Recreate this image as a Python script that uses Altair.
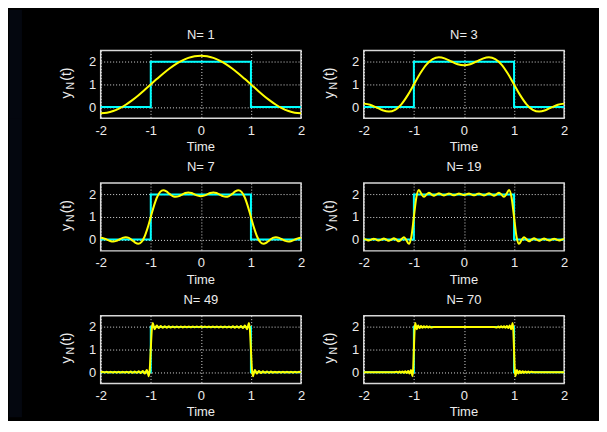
import altair as alt
import pandas as pd

# ---------------- data ----------------
N_LIST = [1, 3, 7, 19, 49, 70]
SQ_T = [-2, -1, -1, 1, 1, 2]
SQ_Y = [0, 0, 2, 2, 0, 0]
X_TICKS = [-2, -1, 0, 1, 2]
Y_TICKS = [0, 1, 2]

# read-off values of each partial sum on 0 <= t <= 1 (the curves are even in t
# and point-symmetric about (1, 1), as seen in every panel)
T_N1 = [0, 0.125, 0.25, 0.375, 0.5, 0.625, 0.75, 0.875, 1.0]
Y_N1 = [2.273, 2.249, 2.176, 2.059, 1.900, 1.707, 1.487, 1.248, 1.0]

T_N3 = [0, 0.125, 0.25, 0.375, 0.5, 0.625, 0.75, 0.875, 1.0]
Y_N3 = [1.849, 1.896, 2.014, 2.142, 2.200, 2.124, 1.879, 1.484, 1.0]

T_N7 = [0, 0.0625, 0.125, 0.1875, 0.25, 0.3125, 0.375, 0.4375, 0.5, 0.5625,
        0.625, 0.6875, 0.75, 0.8125, 0.875, 0.9375, 1.0]
Y_N7 = [1.922, 1.945, 2.002, 2.060, 2.085, 2.059, 1.993, 1.923, 1.892, 1.927,
        2.022, 2.131, 2.184, 2.112, 1.874, 1.483, 1.0]

T_N19 = [0, 0.05, 0.10, 0.15, 0.20, 0.25, 0.30, 0.35, 0.40, 0.45, 0.50,
         0.55, 0.60, 0.65, 0.70, 0.75, 0.80, 0.85, 0.90, 0.95, 1.0]
Y_N19 = [1.968, 2.000, 2.041, 2.000, 1.958, 2.001, 2.045, 1.999, 1.952, 2.002, 2.054,
         1.997, 1.937, 2.005, 2.078, 1.991, 1.892, 2.024, 2.190, 1.873, 1.0]

T_N49 = [0, 0.04, 0.08, 0.12, 0.16, 0.20, 0.24, 0.28, 0.32, 0.36, 0.40, 0.44,
         0.48, 0.52, 0.56, 0.60, 0.64, 0.68, 0.70, 0.72, 0.74, 0.76, 0.78, 0.80,
         0.82, 0.84, 0.86, 0.88, 0.90, 0.92, 0.94, 0.96, 0.98, 1.0]
Y_N49 = [2.016, 1.984, 2.016, 1.984, 2.017, 1.983, 2.017, 1.982, 2.018, 1.981, 2.019, 1.980,
         2.021, 1.978, 2.024, 1.975, 2.027, 1.970, 2.001, 2.029, 1.999, 1.966, 2.002, 2.040,
         1.997, 1.950, 2.005, 2.066, 1.991, 1.903, 2.024, 2.179, 1.873, 1.0]

T_N70 = [0, 0.1, 0.2, 0.3, 0.4, 0.5, 0.6, 0.6571, 0.6857, 0.7143, 0.7429, 0.7714,
         0.8, 0.8286, 0.8429, 0.8571, 0.8714, 0.8857, 0.9, 0.9143, 0.9286, 0.9429,
         0.9571, 0.9714, 0.9857, 1.0]
Y_N70 = [2.0, 2.0, 2.0, 2.0, 2.0, 2.0, 2.0, 1.980, 2.022, 1.976, 2.026, 1.971,
         2.032, 1.966, 2.002, 2.040, 1.997, 1.950, 2.005, 2.066, 1.991, 1.903,
         2.024, 2.179, 1.873, 1.0]

HALVES = [(T_N1, Y_N1), (T_N3, Y_N3), (T_N7, Y_N7),
          (T_N19, Y_N19), (T_N49, Y_N49), (T_N70, Y_N70)]

# ---------------- style / layout ----------------
W, H = 201, 68
COL_GAP, ROW_GAP = 63, 65
TOP = 41          # room above first row (page top margin included)
FONT = "Liberation Sans"
TXT = "#ececec"
NAVY = "#04070f"
CYAN = "#00ffff"
YELLOW = "#ffff00"
ONE = pd.DataFrame({"k": [0]})


def full_curve(th, yh):
    pts = {}
    for t, y in zip(th, yh):
        for tt, yy in ((t, y), (-t, y), (2 - t, 2 - y), (t - 2, 2 - y)):
            pts[round(tt, 4)] = round(yy, 4)
    ts = sorted(pts)
    return pd.DataFrame({"t": ts, "y": [pts[t] for t in ts]})


def axis_x():
    return alt.X("t:Q", scale=alt.Scale(domain=[-2, 2], nice=False, zero=False),
                 axis=alt.Axis(values=X_TICKS, labelExpr="'' + datum.value",
                               labelPadding=6, title=None, labelFlush=False,
                               labelOverlap=False))


def axis_y():
    return alt.Y("y:Q", scale=alt.Scale(domain=[-0.5, 2.5], nice=False, zero=False),
                 axis=alt.Axis(values=Y_TICKS, labelExpr="'' + datum.value",
                               labelPadding=5, title=None, labelFlush=False,
                               labelOverlap=False))


def text_layer(txt, x, y, size=13, angle=0, baseline="alphabetic"):
    kw = dict(font=FONT, fontSize=size, color=TXT, align="center", baseline=baseline)
    if angle:
        kw["angle"] = angle
    return alt.Chart(ONE).mark_text(**kw).encode(
        x=alt.value(x), y=alt.value(y), text=alt.value(txt))


def panel(idx, n, th, yh):
    row, col = divmod(idx, 2)
    layers = []
    if col == 0:
        top = -TOP if row == 0 else -ROW_GAP
        bot = H + ROW_GAP if row < 2 else H + 34
        layers.append(alt.Chart(ONE).mark_rect(color=NAVY).encode(
            x=alt.value(-92), x2=alt.value(-79), y=alt.value(top), y2=alt.value(bot)))
    else:
        layers.append(alt.Chart(ONE).mark_rect(color="#000000").encode(
            x=alt.value(W + 2), x2=alt.value(235), y=alt.value(0), y2=alt.value(H)))

    sq = pd.DataFrame({"t": SQ_T, "y": SQ_Y, "i": list(range(len(SQ_T)))})
    layers.append(alt.Chart(sq).mark_line(color=CYAN, strokeWidth=2).encode(
        x=axis_x(), y=axis_y(), order="i:Q"))
    layers.append(alt.Chart(full_curve(th, yh)).mark_line(
        color=YELLOW, strokeWidth=2, interpolate="monotone").encode(
        x=axis_x(), y=axis_y()))

    mid = H / 2
    layers.append(text_layer(f"N= {n}", W / 2, -12))
    layers.append(text_layer("Time", W / 2, H + 33))
    layers.append(text_layer("y", -29.5, mid + 10.5, size=14, angle=270))
    layers.append(text_layer("N", -26.5, mid + 1.3, size=10.5, angle=270))
    layers.append(text_layer("(t)", -29.5, mid - 10.3, size=14, angle=270))
    return alt.layer(*layers).properties(width=W, height=H)


panels = [panel(i, n, th, yh) for i, (n, (th, yh)) in enumerate(zip(N_LIST, HALVES))]

chart = alt.concat(*panels, columns=2,
                   spacing={"row": ROW_GAP, "column": COL_GAP},
                   bounds="flush").properties(
    background="#000000", padding=0
).configure_view(
    stroke="#d8d8d8", strokeWidth=1.5
).configure_axis(
    grid=True, gridColor="#ffffff", gridDash=[1, 2], gridOpacity=0.85, gridWidth=1,
    domain=False, ticks=False, tickSize=0,
    labelFont=FONT, labelFontSize=13, labelColor=TXT
)

chart.save("out.html", embed_options={"renderer": "svg", "actions": False})
